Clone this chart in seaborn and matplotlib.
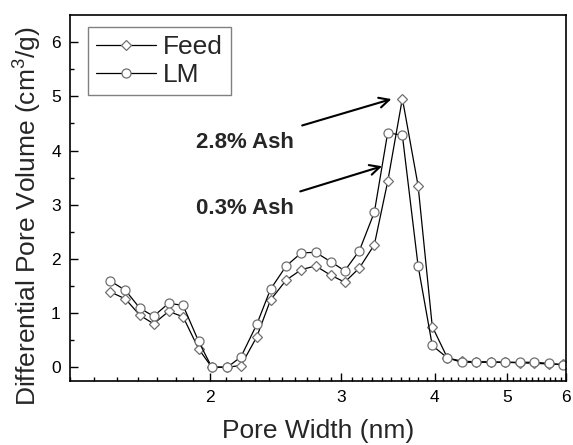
import numpy as np
import pandas as pd
import matplotlib
matplotlib.use("Agg")
import matplotlib.pyplot as plt
from matplotlib.ticker import FixedLocator, NullFormatter, FixedFormatter
import seaborn as sns

# pore widths (nm)
pore_width = [1.47, 1.54, 1.61, 1.68, 1.76, 1.84, 1.93, 2.01, 2.11, 2.20,
              2.31, 2.41, 2.53, 2.65, 2.77, 2.90, 3.03, 3.17, 3.32, 3.46,
              3.62, 3.80, 3.97, 4.16, 4.35, 4.55, 4.76, 4.97, 5.21, 5.44,
              5.69, 5.95]
feed = [1.39, 1.26, 0.96, 0.80, 1.03, 0.93, 0.34, 0.00, 0.00, 0.03,
        0.56, 1.24, 1.61, 1.80, 1.87, 1.70, 1.57, 1.83, 2.26, 3.43,
        4.96, 3.35, 0.75, 0.17, 0.11, 0.10, 0.10, 0.09, 0.08, 0.07,
        0.06, 0.05]
lm = [1.59, 1.42, 1.09, 0.94, 1.18, 1.14, 0.48, 0.00, 0.00, 0.19,
      0.79, 1.44, 1.87, 2.11, 2.12, 1.95, 1.78, 2.15, 2.86, 4.33,
      4.28, 1.87, 0.40, 0.17, 0.09, 0.09, 0.09, 0.09, 0.09, 0.09,
      0.07, 0.04]

x_ticks = [2, 3, 4, 5, 6]

sns.set_style("ticks")
plt.rcParams['font.family'] = ['Liberation Sans', 'DejaVu Sans']
plt.rcParams['mathtext.fontset'] = 'custom'
plt.rcParams['mathtext.rm'] = 'Liberation Sans'

df = pd.DataFrame({"w": pore_width, "Feed": feed, "LM": lm})

fig = plt.figure(figsize=(5.73, 4.45), dpi=100)
ax = fig.add_axes([0.123, 0.1445, 0.865, 0.8215])

common = dict(color="black", linewidth=0.9, markersize=6.5,
              markerfacecolor="white", markeredgecolor="#707070",
              markeredgewidth=0.9, sort=False)
sns.lineplot(data=df, x="w", y="Feed", marker="D", label="Feed", ax=ax,
             **{**common, "markersize": 5.5})
sns.lineplot(data=df, x="w", y="LM", marker="o", label="LM", ax=ax, **common)

ax.set_xscale("log")
ax.set_xlim(1.3, 6)
ax.set_ylim(-0.25, 6.5)
ax.xaxis.set_major_locator(FixedLocator(x_ticks))
ax.xaxis.set_major_formatter(FixedFormatter([str(t) for t in x_ticks]))
ax.xaxis.set_minor_locator(FixedLocator(np.arange(1.3, 6.0, 0.1)))
ax.xaxis.set_minor_formatter(NullFormatter())
ax.set_yticks(range(0, 7))
ax.set_yticks(np.arange(0.5, 6.5, 1.0), minor=True)

ax.tick_params(which="both", direction="in", top=False, right=False,
               labelsize=12.5, width=1.0, color="black", labelcolor="black")
ax.tick_params(which="major", length=6, pad=7)
ax.tick_params(which="minor", length=3)
for s in ax.spines.values():
    s.set_linewidth(1.2)
    s.set_color("black")

ax.set_xlabel("Pore Width (nm)", fontsize=19, labelpad=10)
ax.set_ylabel("Differential Pore Volume (cm$^3$/g)", fontsize=19, labelpad=6)
ax.yaxis.label.set_y(0.45)

ax.annotate("2.8% Ash", xy=(3.50, 4.95), xytext=(2.59, 4.15),
            fontsize=16, fontweight="bold", ha="right", va="center",
            arrowprops=dict(arrowstyle="->", color="black", lw=1.5,
                            mutation_scale=18, shrinkA=8, shrinkB=0))
ax.annotate("0.3% Ash", xy=(3.40, 3.71), xytext=(2.59, 2.93),
            fontsize=16, fontweight="bold", ha="right", va="center",
            arrowprops=dict(arrowstyle="->", color="black", lw=1.5,
                            mutation_scale=18, shrinkA=8, shrinkB=0))

leg = ax.legend(loc="upper left", bbox_to_anchor=(0.035, 0.967),
                borderaxespad=0, fontsize=19, handlelength=2.3,
                handletextpad=0.25, borderpad=0.3, labelspacing=0.15,
                fancybox=False, framealpha=1, edgecolor="#808080")
leg.get_frame().set_linewidth(1.0)

fig.savefig("out.png", dpi=100)
